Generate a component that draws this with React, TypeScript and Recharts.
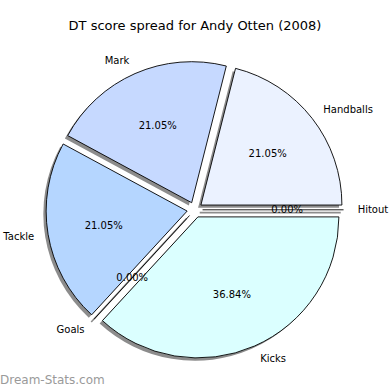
import React from 'react';
import { PieChart, Pie, Cell } from 'recharts';

const categories = ['Hitout', 'Handballs', 'Mark', 'Tackle', 'Goals', 'Kicks'];
const values = [0, 4, 4, 4, 0, 7];
const colors = ['#DDEEFF', '#EBF2FF', '#C6D9FF', '#B5D6FF', '#C0DDFF', '#DBFFFF'];
const title = 'DT score spread for Andy Otten (2008)';
const watermark = 'Dream-Stats.com';

const EXPLODE = 0.055;
const RADIUS = 141;
const CX = 194.8;
const CY = 209.8;
const SHADOW = 0.02;
const RAD = Math.PI / 180;
const FONT = '"DejaVu Sans", sans-serif';

const data = categories.map((name, i) => ({ name, value: values[i] }));
const total = values.reduce((a, b) => a + b, 0);

function midAngleOf(i: number) {
  let start = 0;
  for (let k = 0; k < i; k++) start += (values[k] / total) * 360;
  const end = start + (values[i] / total) * 360;
  return (start + end) / 2;
}

function explodeShift(i: number, r: number) {
  const m = midAngleOf(i) * RAD;
  const d = EXPLODE * r;
  return { dx: d * Math.cos(m), dy: -d * Math.sin(m) };
}

function makeLabel(isShadow: boolean) {
  return (props: any) => {
    const { cx, cy, midAngle, outerRadius, percent, name, value, index } = props;
    const m = midAngle * RAD;
    const d = EXPLODE * outerRadius;
    const ex = cx + d * Math.cos(m);
    const ey = cy - d * Math.sin(m);
    const zeroLine =
      value === 0 ? (
        <line
          x1={ex}
          y1={ey}
          x2={ex + outerRadius * Math.cos(m)}
          y2={ey - outerRadius * Math.sin(m)}
          stroke={isShadow ? '#8c8c8c' : '#000'}
          strokeWidth={isShadow ? 1.6 : 0.9}
        />
      ) : null;
    if (isShadow) return <g key={`s-${index}`}>{zeroLine}</g>;
    const lx = ex + 1.1 * outerRadius * Math.cos(m);
    const ly = ey - 1.1 * outerRadius * Math.sin(m);
    const px = ex + 0.6 * outerRadius * Math.cos(m);
    const py = ey - 0.6 * outerRadius * Math.sin(m);
    return (
      <g key={`l-${index}`}>
        {zeroLine}
        <text
          x={lx}
          y={ly}
          textAnchor={lx - ex > 0 ? 'start' : 'end'}
          dominantBaseline="central"
          fontSize={10}
          fontFamily={FONT}
          fill="#000"
        >
          {name}
        </text>
        <text
          x={px}
          y={py}
          textAnchor="middle"
          dominantBaseline="central"
          fontSize={10}
          fontFamily={FONT}
          fill="#000"
        >
          {(percent * 100).toFixed(2) + '%'}
        </text>
      </g>
    );
  };
}

export default function App() {
  return (
    <div style={{ position: 'absolute', left: 0, top: 0, width: 390, height: 390, background: '#fff' }}>
      <div
        style={{
          position: 'absolute',
          left: 0,
          top: 17,
          width: 390,
          textAlign: 'center',
          fontFamily: FONT,
          fontSize: 13,
          lineHeight: '17px',
          color: '#000',
        }}
      >
        {title}
      </div>
      <PieChart width={390} height={390} margin={{ top: 0, right: 0, bottom: 0, left: 0 }}>
        <Pie
          data={data}
          dataKey="value"
          nameKey="name"
          cx={CX - SHADOW * RADIUS}
          cy={CY + SHADOW * RADIUS}
          outerRadius={RADIUS}
          innerRadius={0}
          startAngle={0}
          endAngle={360}
          isAnimationActive={false}
          label={makeLabel(true)}
          labelLine={false}
          stroke="none"
        >
          {data.map((d, i) => {
            const s = explodeShift(i, RADIUS);
            return <Cell key={`sh-${i}`} fill="#8c8c8c" transform={`translate(${s.dx},${s.dy})`} />;
          })}
        </Pie>
        <Pie
          data={data}
          dataKey="value"
          nameKey="name"
          cx={CX}
          cy={CY}
          outerRadius={RADIUS}
          innerRadius={0}
          startAngle={0}
          endAngle={360}
          isAnimationActive={false}
          label={makeLabel(false)}
          labelLine={false}
          stroke="#000"
          strokeWidth={0.9}
        >
          {data.map((d, i) => {
            const s = explodeShift(i, RADIUS);
            return <Cell key={`c-${i}`} fill={colors[i]} transform={`translate(${s.dx},${s.dy})`} />;
          })}
        </Pie>
      </PieChart>
      <div
        style={{
          position: 'absolute',
          left: 0,
          top: 372,
          fontFamily: FONT,
          fontSize: 12,
          lineHeight: '16px',
          color: '#9a9a9a',
        }}
      >
        {watermark}
      </div>
    </div>
  );
}
